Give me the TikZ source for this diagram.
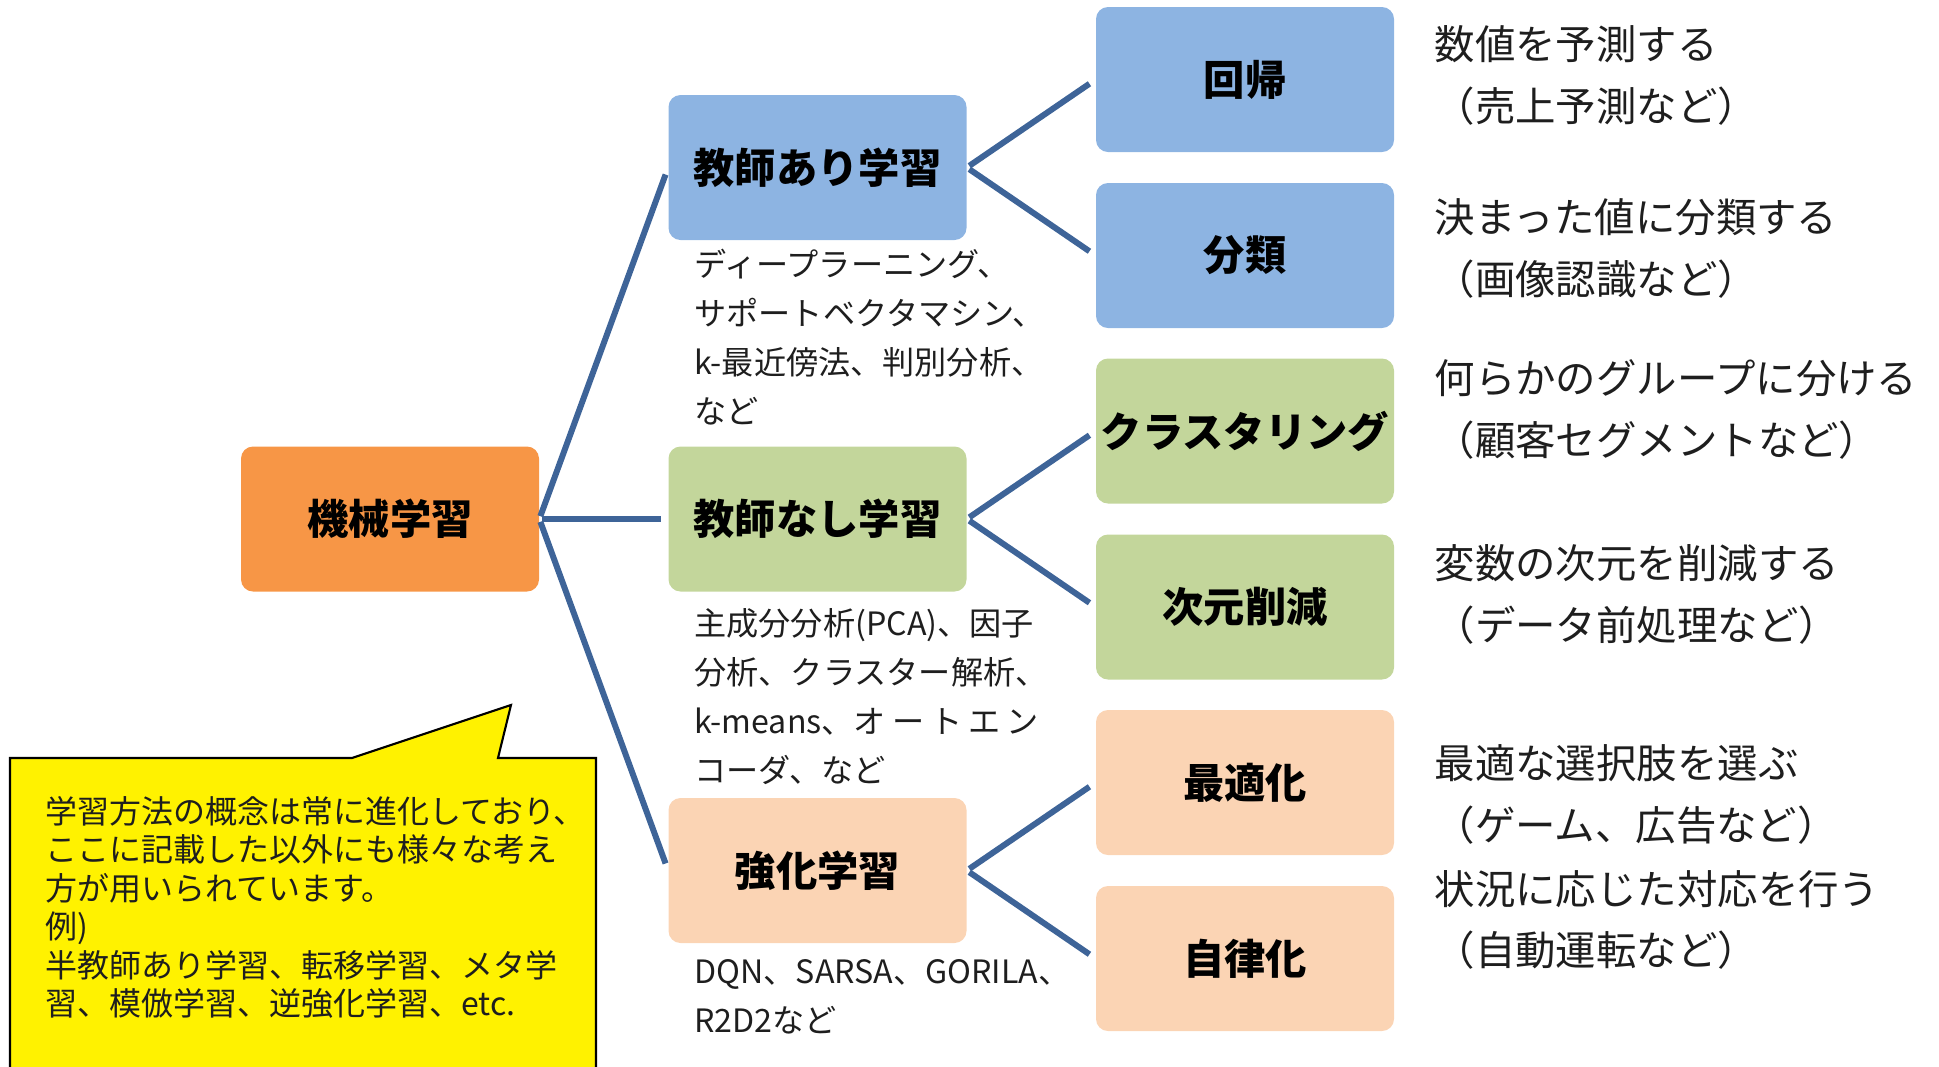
\documentclass[tikz,border=0pt]{standalone}
\usepackage{fontspec}
\setmainfont{Noto Sans CJK JP}
\usetikzlibrary{positioning}
\definecolor{kikai}{RGB}{247,150,70}
\definecolor{ari}{RGB}{141,180,226}
\definecolor{nasi}{RGB}{195,214,155}
\definecolor{kyoka}{RGB}{251,212,180}
\definecolor{linkblue}{RGB}{62,100,152}
\definecolor{txt}{RGB}{30,30,30}

\begin{document}
\begin{tikzpicture}[node distance=8.55cm,on grid,auto,
		box/.style={rectangle,rounded corners=0.24cm,minimum width=5.96cm,minimum height=2.9cm,inner sep=0pt,font=\bfseries\fontsize{23.5}{28}\selectfont},
		desc/.style={align=left,inner sep=0pt,on grid=false,text=txt,font=\fontsize{18.3}{27.9}\selectfont},
		expl/.style={align=left,inner sep=0pt,on grid=false,text=txt,font=\fontsize{23}{35}\selectfont},
		link/.style={draw=linkblue,line width=3.4pt,shorten <=0.06cm,shorten >=0.15cm}]
	\useasboundingbox (0,0) rectangle (38.78,-21.32);
			\node[box,fill=kikai] (0) at (7.8,-10.38) {機械学習};
			\node[box,fill=nasi] (2) [right=of 0] {教師なし学習};
				\path[link] (0.east) edge (2.west);
			\node[box,fill=ari] (1) [above=7.03cm of 2] {教師あり学習};
				\path[link] (0.east) edge (1.west);
			\node[box,fill=kyoka] (3) [below=7.03cm of 2] {強化学習};
				\path[link] (0.east) edge (3.west);
			\node[box,fill=ari] (4) [above right=1.76cm and 8.55cm of 1] {回帰};
				\path[link] (1.east) edge (4.west);
			\node[box,fill=ari] (5) [below right=1.76cm and 8.55cm of 1] {分類};
				\path[link] (1.east) edge (5.west);
			\node[box,fill=nasi] (6) [above right=1.76cm and 8.55cm of 2] {クラスタリング};
				\path[link] (2.east) edge (6.west);
			\node[box,fill=nasi] (7) [below right=1.76cm and 8.55cm of 2] {次元削減};
				\path[link] (2.east) edge (7.west);
			\node[box,fill=kyoka] (8) [above right=1.76cm and 8.55cm of 3] {最適化};
				\path[link] (3.east) edge (8.west);
			\node[box,fill=kyoka] (9) [below right=1.76cm and 8.55cm of 3] {自律化};
				\path[link] (3.east) edge (9.west);
			\node[desc] (11) [below right=0.16cm and 0.52cm of 1.south west] {ディープラーニング、\\サポートベクタマシン、\\k-最近傍法、判別分析、\\など};
			\node[desc] (12) [below right=0.32cm and 0.52cm of 2.south west] {主成分分析(PCA)、因子\\分析、クラスター解析、\\k-means、\makebox[3.7cm][s]{オ\hfill ー\hfill ト\hfill エ\hfill ン}\\コーダ、など};
			\node[desc] (13) [below right=0.32cm and 0.52cm of 3.south west] {DQN、SARSA、GORILA、\\R2D2など};
			\node[expl] (14) [right=0.8cm of 4.east,yshift=0.08cm] {数値を予測する\\（売上予測など）};
			\node[expl] (15) [right=0.8cm of 5.east,yshift=0.14cm] {決まった値に分類する\\（画像認識など）};
			\node[expl] (16) [right=0.8cm of 6.east,yshift=0.43cm] {何らかのグループに分ける\\（顧客セグメントなど）};
			\node[expl] (17) [right=0.8cm of 7.east,yshift=0.25cm] {変数の次元を削減する\\（データ前処理など）};
			\node[expl] (18) [right=0.8cm of 8.east,yshift=-0.24cm] {最適な選択肢を選ぶ\\（ゲーム、広告など）};
			\node[expl] (19) [right=0.8cm of 9.east,yshift=0.77cm] {状況に応じた対応を行う\\（自動運転など）};
			\draw[fill=yellow,line width=1.2pt] (0.2,-15.16) -- (7.04,-15.16) -- (10.22,-14.1) -- (9.96,-15.16) -- (11.92,-15.16) -- (11.92,-21.8) -- (0.2,-21.8) -- cycle;
			\node[desc,anchor=north west,font=\fontsize{18.2}{21.9}\selectfont] (20) at (0.9,-15.92) {学習方法の概念は常に進化しており、\\ここに記載した以外にも様々な考え\\方が用いられています。\\例)\\半教師あり学習、転移学習、メタ学\\習、模倣学習、逆強化学習、etc.};
\end{tikzpicture}
\end{document}
